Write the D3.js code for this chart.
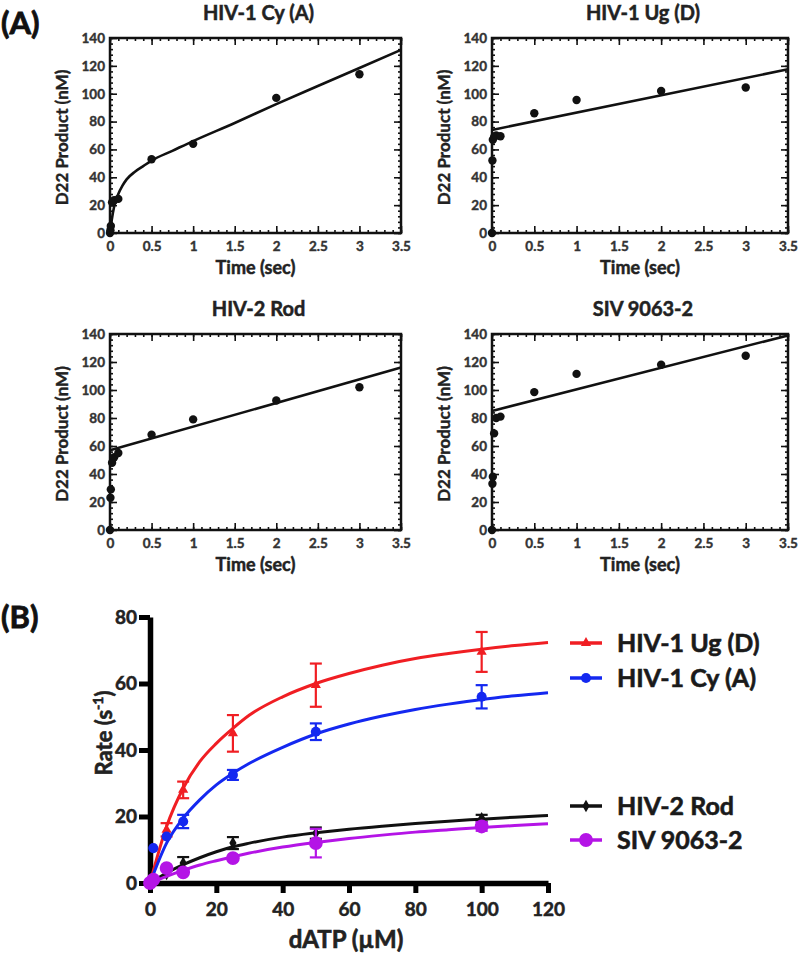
<!DOCTYPE html>
<html><head><meta charset="utf-8">
<script src="https://cdn.jsdelivr.net/npm/d3@7"></script>
<style>
body{margin:0;background:#fff;}
text{font-family:Lato,"Open Sans","DejaVu Sans",sans-serif;font-weight:bold;}
</style></head>
<body><svg id="c" width="800" height="956"></svg>
<script>
// ---------- Panel A data ----------
const titlesA = ["HIV-1 Cy (A)", "HIV-1 Ug (D)", "HIV-2 Rod", "SIV 9063-2"];
const timePts = [0, 0.005, 0.01, 0.025, 0.05, 0.1, 0.5, 1, 2, 3];
const cyProduct  = [0, 2, 5, 22, 23.5, 24.5, 53, 64, 97, 114];
const ugProduct  = [0, 52, 67, 69, 70, 69.5, 86, 95.5, 102, 104.5];
const rodProduct = [0, 23, 29, 48, 52, 55, 68, 79, 92.5, 102];
const sivProduct = [0, 33, 38, 69, 80, 81, 98.5, 111.5, 118, 124.5];
// fitted curves
const cyFitT = [0, 0.02, 0.05, 0.1, 0.15, 0.2, 0.3, 0.4, 0.5, 0.75, 1, 1.5, 2, 2.5, 3, 3.5];
const cyFitY = [0, 9, 19, 28, 34, 38.5, 44, 48, 52, 59, 66, 79, 92.5, 105.5, 118.5, 131.5];
const ugFitT = [0, 3.5],  ugFitY = [74, 117.5];
const rodFitT = [0, 3.5], rodFitY = [57, 116];
const sivFitT = [0, 3.5], sivFitY = [85, 139];
const xTicksA = [0, 0.5, 1, 1.5, 2, 2.5, 3, 3.5];
const xTickLabelsA = ["0", "0.5", "1", "1.5", "2", "2.5", "3", "3.5"];
const yTicksA = [0, 20, 40, 60, 80, 100, 120, 140];
const yTickLabelsA = ["0", "20", "40", "60", "80", "100", "120", "140"];

// ---------- Panel B data ----------
const dATP = [0, 1, 5, 10, 25, 50, 100];
const seriesNamesB = ["HIV-1 Ug (D)", "HIV-1 Cy (A)", "HIV-2 Rod", "SIV 9063-2"];
const ugRate  = [0, 2, 16, 28, 45, 59.5, 69.5];
const ugErr   = [0, 0, 2, 2.5, 5.5, 6.5, 6];
const cyRate  = [0, 10.5, 14, 18.5, 32.5, 45.5, 56];
const cyErr   = [0, 0, 0, 2, 1.5, 2.5, 3.5];
const rodRate = [0, 1, 2.7, 6, 12, 15, 19.5];
const rodErr  = [0, 0, 0, 1.8, 1.8, 1.7, 1];
const sivRate = [0, 1, 4.5, 3.2, 7.5, 12, 17];
const sivErr  = [0, 0, 0, 0, 0, 4.3, 1.3];
const fitX   = [0, 5, 10, 15, 20, 25, 30, 40, 50, 60, 70, 80, 90, 100, 110, 120];
const ugFit  = [0, 17, 28.5, 36.5, 42, 46.5, 50.5, 56, 60, 63, 65.5, 67.5, 69, 70.3, 71.4, 72.3];
const cyFit  = [0, 12, 19.5, 25, 29.5, 33, 36, 40.8, 44.8, 47.8, 50.2, 52.2, 53.8, 55.2, 56.3, 57.2];
const rodFit = [0, 3, 5.5, 7.6, 9.4, 10.9, 12, 13.8, 15.1, 16.2, 17.1, 17.9, 18.6, 19.2, 19.8, 20.3];
const sivFit = [0, 2, 3.8, 5.4, 6.7, 7.9, 9, 10.8, 12.2, 13.4, 14.4, 15.3, 16, 16.7, 17.3, 17.8];
const xTicksB = [0, 20, 40, 60, 80, 100, 120];
const yTicksB = [0, 20, 40, 60, 80];

const svg = d3.select("#c");
svg.append("rect").attr("width", 800).attr("height", 956).attr("fill", "#fff");
const heavy = (sel, c, w) => sel.attr("stroke", c).attr("stroke-width", w).attr("paint-order", "stroke");

// ---------- Panel A ----------
const panelsA = [
  {title: titlesA[0], y: cyProduct,  fx: cyFitT,  fy: cyFitY,  x0: 110, x1: 401, y0: 38,  y1: 233},
  {title: titlesA[1], y: ugProduct,  fx: ugFitT,  fy: ugFitY,  x0: 492, x1: 788, y0: 38,  y1: 233},
  {title: titlesA[2], y: rodProduct, fx: rodFitT, fy: rodFitY, x0: 110, x1: 401, y0: 334, y1: 530},
  {title: titlesA[3], y: sivProduct, fx: sivFitT, fy: sivFitY, x0: 492, x1: 788, y0: 334, y1: 530}
];
svg.append("text").attr("x", 1).attr("y", 34).attr("font-size", 31).attr("fill", "#111").text("(A)").call(heavy, "#111", 0.8);

panelsA.forEach(p => {
  const x = d3.scaleLinear().domain([0, 3.5]).range([p.x0, p.x1]);
  const y = d3.scaleLinear().domain([0, 140]).range([p.y1, p.y0]);
  const g = svg.append("g");
  const minorX = d3.range(0, 3.5001, 0.1);
  const minorY = d3.range(0, 140.001, 4);
  const styleAx = sel => { sel.select(".domain").remove(); sel.selectAll("line").attr("stroke", "#111").attr("stroke-width", 1.6); };
  const styleTxt = sel => sel.attr("font-size", 13.5).attr("fill", "#333").style("font-family", "Lato, sans-serif")
    .attr("stroke", "#333").attr("stroke-width", 0.4);
  // bottom
  g.append("g").attr("transform", `translate(0,${p.y1})`)
    .call(d3.axisBottom(x).tickValues(minorX).tickSize(-3).tickFormat("")).call(styleAx);
  g.append("g").attr("transform", `translate(0,${p.y1})`)
    .call(d3.axisBottom(x).tickValues(xTicksA).tickSize(-7).tickPadding(8).tickFormat((d, i) => xTickLabelsA[i]))
    .call(styleAx)
    .selectAll("text").call(styleTxt);
  // top
  g.append("g").attr("transform", `translate(0,${p.y0})`)
    .call(d3.axisTop(x).tickValues(minorX).tickSize(-3).tickFormat("")).call(styleAx);
  g.append("g").attr("transform", `translate(0,${p.y0})`)
    .call(d3.axisTop(x).tickValues(xTicksA).tickSize(-7).tickFormat("")).call(styleAx);
  // left
  g.append("g").attr("transform", `translate(${p.x0},0)`)
    .call(d3.axisLeft(y).tickValues(minorY).tickSize(-3).tickFormat("")).call(styleAx);
  g.append("g").attr("transform", `translate(${p.x0},0)`)
    .call(d3.axisLeft(y).tickValues(yTicksA).tickSize(-7).tickPadding(5).tickFormat((d, i) => yTickLabelsA[i]))
    .call(styleAx)
    .selectAll("text").call(styleTxt);
  // right
  g.append("g").attr("transform", `translate(${p.x1},0)`)
    .call(d3.axisRight(y).tickValues(minorY).tickSize(-3).tickFormat("")).call(styleAx);
  g.append("g").attr("transform", `translate(${p.x1},0)`)
    .call(d3.axisRight(y).tickValues(yTicksA).tickSize(-7).tickFormat("")).call(styleAx);
  // box
  g.append("rect").attr("x", p.x0).attr("y", p.y0).attr("width", p.x1 - p.x0).attr("height", p.y1 - p.y0)
    .attr("fill", "none").attr("stroke", "#111").attr("stroke-width", 2.5);
  // fit
  const fitData = p.fx.map((t, i) => [t, p.fy[i]]);
  g.append("path").datum(fitData)
    .attr("d", d3.line().x(d => x(d[0])).y(d => y(d[1])).curve(d3.curveMonotoneX))
    .attr("fill", "none").attr("stroke", "#111").attr("stroke-width", 2.6);
  // points
  g.selectAll("circle.pt").data(timePts.map((t, i) => [t, p.y[i]])).enter().append("circle")
    .attr("cx", d => x(d[0])).attr("cy", d => y(d[1])).attr("r", 4.2).attr("fill", "#111");
  // labels
  const cx = (p.x0 + p.x1) / 2;
  g.append("text").attr("x", cx + 3).attr("y", p.y0 - 18).attr("text-anchor", "middle")
    .attr("font-size", 20).attr("fill", "#222").text(p.title).call(heavy, "#222", 0.5);
  g.append("text").attr("x", cx).attr("y", p.y1 + 41).attr("text-anchor", "middle")
    .attr("font-size", 18).attr("fill", "#222").text("Time (sec)").call(heavy, "#222", 0.5);
  g.append("text").attr("transform", `translate(${p.x0 - 42},${(p.y0 + p.y1) / 2 + 2}) rotate(-90)`)
    .attr("text-anchor", "middle").attr("font-size", 17).attr("fill", "#222").text("D22 Product (nM)").call(heavy, "#222", 0.4);
});

// ---------- Panel B ----------
svg.append("text").attr("x", 1).attr("y", 628).attr("font-size", 31).attr("fill", "#111").text("(B)").call(heavy, "#111", 0.8);
const xB = d3.scaleLinear().domain([0, 120]).range([150, 548]);
const yB = d3.scaleLinear().domain([0, 80]).range([883, 617]);
const gB = svg.append("g");
const styleB = sel => {
  sel.select(".domain").attr("stroke", "#000").attr("stroke-width", 5.5);
  sel.selectAll("line").attr("stroke", "#000").attr("stroke-width", 5);
  sel.selectAll("text").attr("font-size", 19).attr("fill", "#222").style("font-family", "Lato, sans-serif")
    .attr("stroke", "#222").attr("stroke-width", 0.5);
};
gB.append("g").attr("transform", "translate(150,0)")
  .call(d3.axisLeft(yB).tickValues(yTicksB).tickSizeInner(11).tickSizeOuter(0).tickPadding(2)).call(styleB);
gB.append("g").attr("transform", "translate(0,883)")
  .call(d3.axisBottom(xB).tickValues(xTicksB).tickSizeInner(10).tickSizeOuter(0).tickPadding(10)).call(styleB);
gB.append("text").attr("x", 346).attr("y", 948).attr("text-anchor", "middle").attr("font-size", 24)
  .attr("fill", "#222").text("dATP (µM)").call(heavy, "#222", 0.6);
const rl = gB.append("text").attr("transform", "translate(112,733) rotate(-90)").attr("text-anchor", "middle")
  .attr("font-size", 22).attr("fill", "#222").call(heavy, "#222", 0.6);
rl.append("tspan").text("Rate (s");
rl.append("tspan").attr("font-size", 14).attr("dy", -9).text("-1");
rl.append("tspan").attr("dy", 9).text(")");

const seriesB = [
  {name: seriesNamesB[0], v: ugRate,  e: ugErr,  f: ugFit,  color: "#f01e23", marker: "tri",  ly: 643},
  {name: seriesNamesB[1], v: cyRate,  e: cyErr,  f: cyFit,  color: "#1428f0", marker: "circ", ly: 678},
  {name: seriesNamesB[2], v: rodRate, e: rodErr, f: rodFit, color: "#111111", marker: "dia",  ly: 806},
  {name: seriesNamesB[3], v: sivRate, e: sivErr, f: sivFit, color: "#b414e6", marker: "bigc", ly: 840}
];
const markerPath = {
  tri: d3.symbol().type(d3.symbolTriangle).size(45)(),
  circ: d3.symbol().type(d3.symbolCircle).size(80)(),
  dia: d3.symbol().type(d3.symbolDiamond).size(45)(),
  bigc: d3.symbol().type(d3.symbolCircle).size(150)()
};
seriesB.forEach(s => {
  const g = gB.append("g");
  g.append("path").datum(fitX.map((xv, i) => [xv, s.f[i]]))
    .attr("d", d3.line().x(d => xB(d[0])).y(d => yB(d[1])).curve(d3.curveMonotoneX))
    .attr("fill", "none").attr("stroke", s.color).attr("stroke-width", 3);
  const pts = dATP.map((xv, i) => ({x: xv, v: s.v[i], e: s.e[i]}));
  const eb = g.selectAll("g.eb").data(pts.filter(d => d.e > 0)).enter().append("g");
  eb.append("line").attr("x1", d => xB(d.x)).attr("x2", d => xB(d.x))
    .attr("y1", d => yB(d.v - d.e)).attr("y2", d => yB(d.v + d.e)).attr("stroke", s.color).attr("stroke-width", 2.2);
  [-1, 1].forEach(sg => {
    eb.append("line").attr("x1", d => xB(d.x) - 6).attr("x2", d => xB(d.x) + 6)
      .attr("y1", d => yB(d.v + sg * d.e)).attr("y2", d => yB(d.v + sg * d.e))
      .attr("stroke", s.color).attr("stroke-width", 2.2);
  });
  g.selectAll("path.m").data(pts).enter().append("path")
    .attr("d", markerPath[s.marker]).attr("transform", d => `translate(${xB(d.x)},${yB(d.v)})`)
    .attr("fill", s.color);
  // legend
  g.append("line").attr("x1", 570).attr("x2", 602).attr("y1", s.ly).attr("y2", s.ly)
    .attr("stroke", s.color).attr("stroke-width", 3.5);
  g.append("path").attr("d", markerPath[s.marker]).attr("transform", `translate(586,${s.ly})`).attr("fill", s.color);
  g.append("text").attr("x", 617).attr("y", s.ly + 9).attr("font-size", 25).attr("fill", "#1a1a1a")
    .text(s.name).call(heavy, "#1a1a1a", 0.6);
});
</script></body></html>
